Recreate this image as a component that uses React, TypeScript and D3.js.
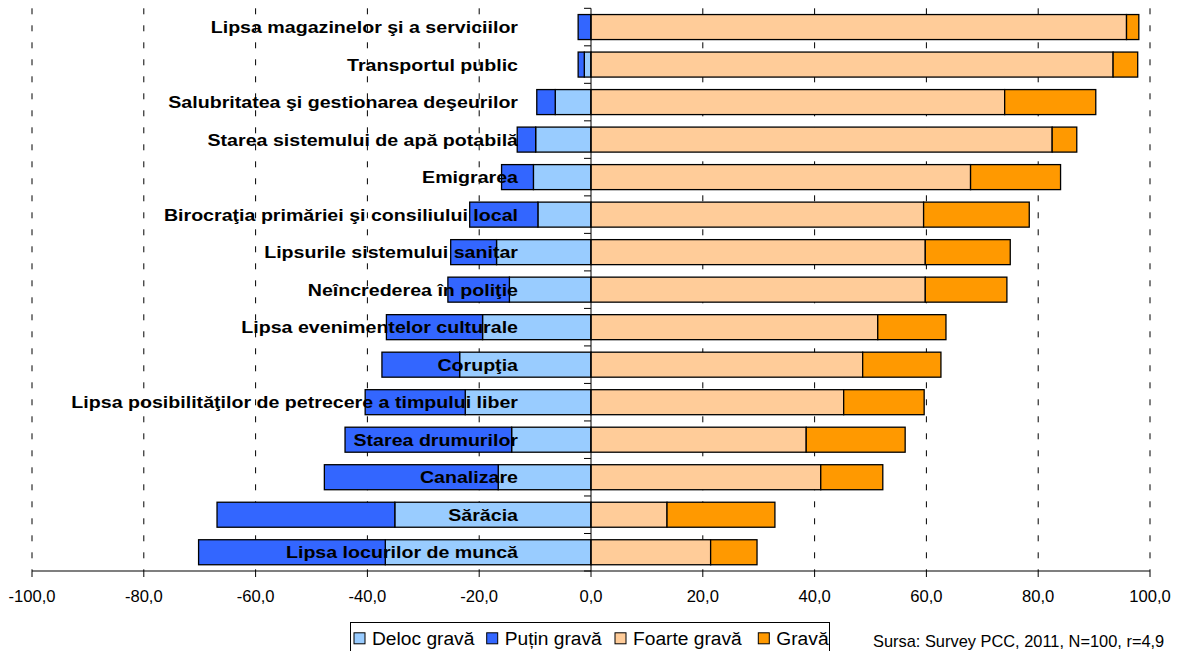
import React from "react";
import * as d3 from "d3";

const categories = [
  "Lipsa magazinelor şi a serviciilor",
  "Transportul public",
  "Salubritatea şi gestionarea deşeurilor",
  "Starea sistemului de apă potabilă",
  "Emigrarea",
  "Birocraţia primăriei şi consiliului local",
  "Lipsurile sistemului sanitar",
  "Neîncrederea în poliţie",
  "Lipsa evenimentelor culturale",
  "Corupţia",
  "Lipsa posibilităţilor de petrecere a timpului liber",
  "Starea drumurilor",
  "Canalizare",
  "Sărăcia",
  "Lipsa locurilor de muncă",
];

const delocGrava = [0, 1.2, 6.4, 9.9, 10.3, 9.5, 16.9, 14.6, 19.4, 23.5, 22.5, 14.2, 16.6, 35.1, 36.8];
const putinGrava = [2.3, 1.1, 3.3, 3.3, 5.7, 12.2, 8.2, 11.0, 17.2, 13.9, 17.9, 29.8, 31.1, 31.8, 33.4];
const foarteGrava = [95.8, 93.4, 74.0, 82.5, 67.9, 59.5, 59.8, 59.8, 51.3, 48.6, 45.2, 38.5, 41.1, 13.6, 21.4];
const grava = [2.2, 4.4, 16.3, 4.4, 16.1, 18.9, 15.2, 14.6, 12.2, 14.0, 14.4, 17.7, 11.1, 19.3, 8.3];

const seriesNames = ["Deloc gravă", "Puțin gravă", "Foarte gravă", "Gravă"];
const seriesKeys = ["deloc", "putin", "foarte", "grava"];
const seriesColors = ["#99CCFF", "#3366FF", "#FFCC99", "#FF9900"];

const xTicks = [-100, -80, -60, -40, -20, 0, 20, 40, 60, 80, 100];
const sourceText = "Sursa: Survey PCC, 2011, N=100, r=4,9";

const FONT = "'Liberation Sans', Arial, Helvetica, sans-serif";

export default function App() {
  const W = 1183;
  const H = 651;
  const top = 8.3;
  const bottom = 571;

  const x = d3.scaleLinear().domain([-100, 100]).range([32, 1150]);
  const y = d3
    .scaleBand<string>()
    .domain(categories)
    .range([top, bottom])
    .paddingInner(1 / 3)
    .paddingOuter(1 / 6);

  const rows = categories.map((c, i) => ({
    cat: c,
    deloc: -delocGrava[i],
    putin: -putinGrava[i],
    foarte: foarteGrava[i],
    grava: grava[i],
  }));

  const stack = d3
    .stack<any>()
    .keys(seriesKeys)
    .offset(d3.stackOffsetDiverging);
  const series = stack(rows);

  const fmt = (v: number) => v.toFixed(1).replace(".", ",");
  const step = y.step();
  const bw = y.bandwidth();
  const boundaries = d3.range(categories.length + 1).map((i) => top + i * step);

  const legendX = [354, 486.7, 615, 758.3];

  return (
    <svg
      width={W}
      height={H}
      style={{ position: "absolute", left: 0, top: 0, background: "#fff" }}
      fontFamily={FONT}
    >
      <rect x={0} y={0} width={W} height={H} fill="#fff" />
      {/* gridlines */}
      {xTicks
        .filter((t) => t !== 0)
        .map((t) => (
          <line
            key={"g" + t}
            x1={x(t)}
            x2={x(t)}
            y1={top}
            y2={bottom}
            stroke="#000"
            strokeWidth={1}
            strokeDasharray="6,11"
          />
        ))}
      {/* bars */}
      {series.map((s, si) =>
        s.map((d: any, i: number) => {
          const x0 = x(Math.min(d[0], d[1]));
          const x1 = x(Math.max(d[0], d[1]));
          return (
            <rect
              key={seriesKeys[si] + i}
              x={x0}
              y={y(categories[i])!}
              width={Math.max(0, x1 - x0)}
              height={bw}
              fill={seriesColors[si]}
              stroke="#000"
              strokeWidth={1.3}
            />
          );
        })
      )}
      {/* y axis */}
      <line x1={x(0)} x2={x(0)} y1={top} y2={bottom} stroke="#000" strokeWidth={1} />
      {boundaries.map((b, i) => (
        <line key={"yt" + i} x1={x(0) - 7} x2={x(0)} y1={b} y2={b} stroke="#000" strokeWidth={1} />
      ))}
      {/* x axis */}
      <line x1={x(-100)} x2={x(100)} y1={bottom} y2={bottom} stroke="#000" strokeWidth={1.2} />
      {xTicks.map((t) => (
        <g key={"xt" + t}>
          <line x1={x(t)} x2={x(t)} y1={bottom} y2={bottom + 6} stroke="#000" strokeWidth={1} />
          <text x={x(t)} y={602} textAnchor="middle" fontSize={16.6} fill="#000">
            {fmt(t)}
          </text>
        </g>
      ))}
      {/* category labels */}
      {categories.map((c) => (
        <text
          key={"l" + c}
          transform={`translate(518, ${y(c)! + bw / 2 + 6}) scale(1.175, 1)`}
          textAnchor="end"
          fontSize={16.7}
          fontWeight="bold"
          fill="#000"
        >
          {c}
        </text>
      ))}
      {/* legend */}
      <rect x={350.5} y={622.5} width={479} height={40} fill="#fff" stroke="#000" strokeWidth={1} />
      {seriesNames.map((n, i) => (
        <g key={"lg" + i}>
          <rect
            x={legendX[i]}
            y={632.8}
            width={11}
            height={11}
            fill={seriesColors[i]}
            stroke="#000"
            strokeWidth={1}
          />
          <text x={legendX[i] + 18} y={644.5} fontSize={19.2} fill="#000">
            {n}
          </text>
        </g>
      ))}
      <text x={873} y={647} fontSize={16.4} fill="#000">
        {sourceText}
      </text>
    </svg>
  );
}
